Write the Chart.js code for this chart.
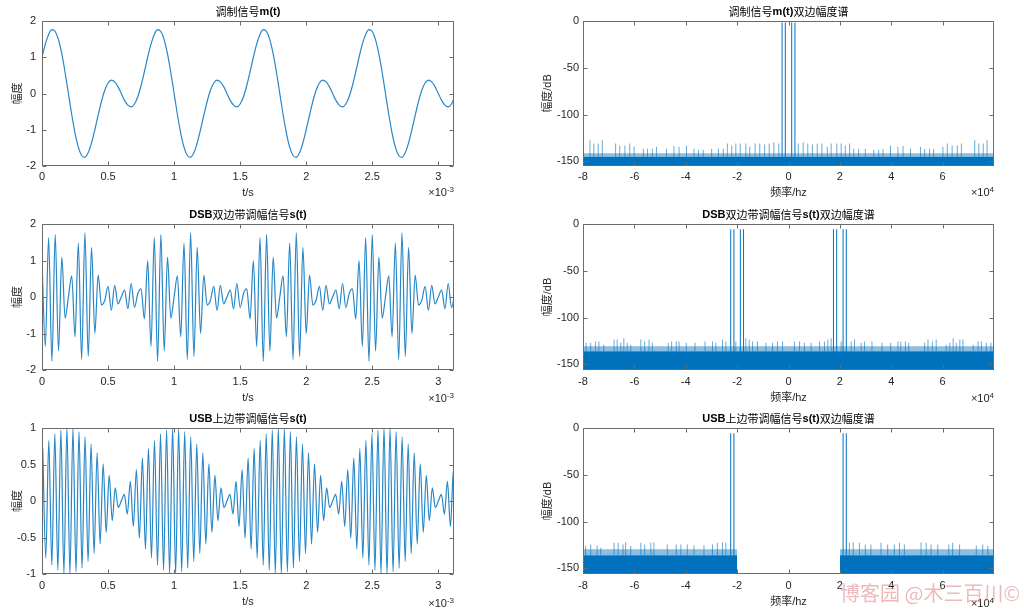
<!DOCTYPE html>
<html>
<head>
<meta charset="utf-8">
<title>调制信号与幅度谱</title>
<script src="https://cdn.jsdelivr.net/npm/chart.js@4.4.1/dist/chart.umd.min.js"></script>
<style>
  html, body { margin: 0; padding: 0; background: #fff; }
  #fig { position: relative; width: 1024px; height: 610px; overflow: hidden; }
  #fig canvas { position: absolute; }
  #mark { position: absolute; left: 840px; top: 581px; font: 20px/24px "Noto Sans CJK SC", sans-serif;
          color: rgba(224, 140, 140, 0.6); white-space: nowrap; }
</style>
</head>
<body>
<div id="fig">
  <canvas id="c1" width="512" height="203" style="left:0;top:0"></canvas>
  <canvas id="c2" width="512" height="203" style="left:512px;top:0"></canvas>
  <canvas id="c3" width="512" height="204" style="left:0;top:203px"></canvas>
  <canvas id="c4" width="512" height="204" style="left:512px;top:203px"></canvas>
  <canvas id="c5" width="512" height="203" style="left:0;top:407px"></canvas>
  <canvas id="c6" width="512" height="203" style="left:512px;top:407px"></canvas>
  <div id="mark">博客园 @木三百川©</div>
</div>
<script>
// ---- time signals (t in ms) ----
const tStepMs = 0.025;
const mValues = [
  1.00, 1.36, 1.63, 1.76, 1.71, 1.48, 1.09, 0.58, 0.00, -0.58, -1.09, -1.48, -1.71, -1.76, -1.63, -1.36,
  -1.00, -0.60, -0.22, 0.09, 0.29, 0.37, 0.32, 0.19, 0.00, -0.19, -0.32, -0.37, -0.29, -0.09, 0.22, 0.60,
  1.00, 1.36, 1.63, 1.76, 1.71, 1.48, 1.09, 0.58, 0.00, -0.58, -1.09, -1.48, -1.71, -1.76, -1.63, -1.36,
  -1.00, -0.60, -0.22, 0.09, 0.29, 0.37, 0.32, 0.19, 0.00, -0.19, -0.32, -0.37, -0.29, -0.09, 0.22, 0.60,
  1.00, 1.36, 1.63, 1.76, 1.71, 1.48, 1.09, 0.58, 0.00, -0.58, -1.09, -1.48, -1.71, -1.76, -1.63, -1.36,
  -1.00, -0.60, -0.22, 0.09, 0.29, 0.37, 0.32, 0.19, 0.00, -0.19, -0.32, -0.37, -0.29, -0.09, 0.22, 0.60,
  1.00, 1.36, 1.63, 1.76, 1.71, 1.48, 1.09, 0.58, 0.00, -0.58, -1.09, -1.48, -1.71, -1.76, -1.63, -1.36,
  -1.00, -0.60, -0.22, 0.09, 0.29, 0.37, 0.32, 0.19, 0.00, -0.19, -0.32, -0.37, -0.29, -0.09
];
const dsbValues = [
  1.00, -1.36, 1.63, -1.76, 1.71, -1.48, 1.09, -0.58, 0.00, 0.58, -1.09, 1.48, -1.71, 1.76, -1.63, 1.36,
  -1.00, 0.60, -0.22, -0.09, 0.29, -0.37, 0.32, -0.19, 0.00, 0.19, -0.32, 0.37, -0.29, 0.09, 0.22, -0.60,
  1.00, -1.36, 1.63, -1.76, 1.71, -1.48, 1.09, -0.58, 0.00, 0.58, -1.09, 1.48, -1.71, 1.76, -1.63, 1.36,
  -1.00, 0.60, -0.22, -0.09, 0.29, -0.37, 0.32, -0.19, 0.00, 0.19, -0.32, 0.37, -0.29, 0.09, 0.22, -0.60,
  1.00, -1.36, 1.63, -1.76, 1.71, -1.48, 1.09, -0.58, 0.00, 0.58, -1.09, 1.48, -1.71, 1.76, -1.63, 1.36,
  -1.00, 0.60, -0.22, -0.09, 0.29, -0.37, 0.32, -0.19, 0.00, 0.19, -0.32, 0.37, -0.29, 0.09, 0.22, -0.60,
  1.00, -1.36, 1.63, -1.76, 1.71, -1.48, 1.09, -0.58, 0.00, 0.58, -1.09, 1.48, -1.71, 1.76, -1.63, 1.36,
  -1.00, 0.60, -0.22, -0.09, 0.29, -0.37, 0.32, -0.19, 0.00, 0.19, -0.32, 0.37, -0.29, 0.09
];
const usbStartMs = 0.0057;
const usbStepMs = 0.02286;
const usbValues = [
  0.72, -0.78, 0.83, -0.88, 0.92, -0.95, 0.97, -0.99, 1.00, -1.00, 0.99, -0.97, 0.95, -0.92, 0.88, -0.83, 0.78, -0.72,
  0.66, -0.59, 0.51, -0.43, 0.35, -0.27, 0.18, -0.09, 0.00, 0.09, -0.18, 0.27, -0.35, 0.43, -0.51, 0.59, -0.66,
  0.72, -0.78, 0.83, -0.88, 0.92, -0.95, 0.97, -0.99, 1.00, -1.00, 0.99, -0.97, 0.95, -0.92, 0.88, -0.83, 0.78, -0.72,
  0.66, -0.59, 0.51, -0.43, 0.35, -0.27, 0.18, -0.09, 0.00, 0.09, -0.18, 0.27, -0.35, 0.43, -0.51, 0.59, -0.66,
  0.72, -0.78, 0.83, -0.88, 0.92, -0.95, 0.97, -0.99, 1.00, -1.00, 0.99, -0.97, 0.95, -0.92, 0.88, -0.83, 0.78, -0.72,
  0.66, -0.59, 0.51, -0.43, 0.35, -0.27, 0.18, -0.09, 0.00, 0.09, -0.18, 0.27, -0.35, 0.43, -0.51, 0.59, -0.66,
  0.72, -0.78, 0.83, -0.88, 0.92, -0.95, 0.97, -0.99, 1.00, -1.00, 0.99, -0.97, 0.95, -0.92, 0.88, -0.83, 0.78, -0.72,
  0.66, -0.59, 0.51, -0.43, 0.35, -0.27, 0.18, -0.09, 0.00, 0.09, -0.18, 0.27, -0.35, 0.43, -0.51
];

// ---- spectra (f in units of 10^4 Hz, level in dB) ----
const mToneFreq = [-0.25, -0.125, 0.125, 0.25];
const mToneDb = -1.7;
const mNoiseDb = [-145, -141.5];          // top of solid floor, top of fuzzy floor
const mSpikeFreq = [
  -7.73, -7.58, -7.41, -7.25, -6.73, -6.57, -6.37, -6.18, -6.01, -5.65, -5.49, -5.30, -5.14, -4.75, -4.46, -4.26, -3.97, -3.68,
  -3.51, -3.32, -2.99, -2.73, -2.54, -2.38, -2.21, -2.05, -1.88, -1.66, -1.51, -1.30, -1.12, -0.93, -0.75, -0.57, -0.38,
  0.38, 0.57, 0.75, 0.93, 1.12, 1.30, 1.51, 1.66, 1.88, 2.05, 2.21, 2.38, 2.54, 2.73, 2.99, 3.32, 3.51,
  3.68, 3.97, 4.26, 4.46, 4.75, 5.14, 5.30, 5.49, 5.65, 6.01, 6.18, 6.37, 6.57, 6.73, 7.25, 7.41, 7.58, 7.73
];
const mSpikeDb = [
  -127.5, -131, -131, -127.5, -131, -133, -133, -131, -134.5, -136.5, -136.5, -136.5, -134.5, -136.5, -133.5, -134.5, -133, -136.5,
  -137.5, -137.5, -136.5, -136.5, -136.5, -131, -133, -131, -131, -131, -134.5, -131, -131, -132, -131, -129.5, -131,
  -131, -129.5, -131, -132, -131, -131, -134.5, -131, -131, -131, -133, -131, -136.5, -136.5, -136.5, -137.5, -137.5,
  -136.5, -133, -134.5, -133.5, -136.5, -134.5, -136.5, -136.5, -136.5, -134.5, -131, -133, -133, -131, -127.5, -131, -131, -127.5
];

const dsbToneFreq = [-2.25, -2.125, -1.875, -1.75, 1.75, 1.875, 2.125, 2.25];
const dsbToneDb = -5.7;
const dsbNoiseDb = [-136, -130.5];
const dsbSpikeFreq = [
  -7.88, -7.70, -7.51, -7.38, -7.19, -6.79, -6.67, -6.53, -6.41, -6.28, -6.14, -5.75, -5.60, -5.43, -5.30, -4.68, -4.55, -4.37,
  -4.26, -3.98, -3.64, -3.25, -2.96, -2.83, -2.57, -2.44, -2.05, -1.66, -1.53, -1.40, -1.21, -0.88, -0.62, -0.43, -0.23,
  0.23, 0.43, 0.62, 0.88, 1.21, 1.40, 1.53, 1.66, 2.05, 2.44, 2.57, 2.83, 2.96, 3.25, 3.64, 3.98, 4.26,
  4.37, 4.55, 4.68, 5.30, 5.43, 5.60, 5.75, 6.14, 6.28, 6.41, 6.53, 6.67, 6.79, 7.19, 7.38, 7.51, 7.70, 7.88
];
const dsbSpikeDb = [
  -127, -127, -125.5, -125.5, -129, -123.5, -123.5, -127, -122, -127, -129, -123.5, -125.5, -123.5, -127, -127, -125.5, -125.5,
  -125.5, -127, -127, -125.5, -125.5, -127, -123.5, -125.5, -125.5, -122, -123.5, -125.5, -125.5, -127, -127, -125.5, -125.5,
  -125.5, -125.5, -127, -127, -125.5, -125.5, -123.5, -122, -125.5, -125.5, -123.5, -127, -125.5, -125.5, -127, -127, -125.5,
  -125.5, -125.5, -127, -127, -123.5, -125.5, -123.5, -129, -127, -122, -127, -123.5, -123.5, -129, -125.5, -125.5, -127, -127
];

const usbToneFreq = [-2.25, -2.125, 2.125, 2.25];
const usbToneDb = -5.7;
const usbNoiseDb = [-136, -129.5];
const usbPassBands = [[-8, -2], [2, 8]];
const usbStopDb = -155.6;
const usbSpikeFreq = [
  -7.90, -7.70, -7.45, -7.31, -6.79, -6.63, -6.44, -6.34, -6.14, -5.75, -5.60, -5.36, -5.24, -4.72, -4.37, -4.19, -3.94, -3.68,
  -3.29, -2.96, -2.77, -2.57, -2.44,
  2.37, 2.52, 2.76, 2.99, 3.21, 3.60, 3.86, 4.12, 4.32, 4.51, 5.16, 5.36, 5.55, 5.81, 6.24, 6.39, 6.66, 7.31, 7.56, 7.76
];
const usbSpikeDb = [
  -126, -124.5, -125.5, -128, -122.5, -122.5, -124.5, -122, -126, -122.5, -124.5, -122.5, -122, -124.5, -124.5, -124.5, -124.5, -125.5,
  -125.5, -124.5, -122.5, -122, -122.5,
  -122.5, -122, -122.5, -124.5, -124.5, -122.5, -124.5, -124.5, -122.5, -124.5, -122, -122.5, -124.5, -124.5, -124.5, -122.5, -124.5, -125.5, -124.5, -126
];

const titles = [
  '调制信号m(t)', '调制信号m(t)双边幅度谱',
  'DSB双边带调幅信号s(t)', 'DSB双边带调幅信号s(t)双边幅度谱',
  'USB上边带调幅信号s(t)', 'USB上边带调幅信号s(t)双边幅度谱'
];

// ---- styling ----
const blue = '#0072BD';
const ink = '#262626';
const latin = '"Liberation Sans", Arial, sans-serif';
const cjk = '"Liberation Sans", "Noto Sans CJK SC", sans-serif';

// MATLAB-like box, inward ticks, mixed-weight title and axis exponent
const matlabAxes = {
  id: 'matlabAxes',
  afterDatasetsDraw(chart, args, opts) {
    const { ctx, chartArea: a, scales: { x, y } } = chart;
    const L = Math.round(a.left) + 0.5, R = Math.round(a.right) - 0.5;
    const T = Math.round(a.top) + 0.5, B = Math.round(a.bottom) - 0.5;
    ctx.save();
    ctx.strokeStyle = '#6b6b6b';
    ctx.lineWidth = 1;
    ctx.beginPath();
    ctx.rect(L, T, R - L, B - T);
    x.ticks.forEach(t => {
      const p = Math.round(x.getPixelForValue(t.value)) + 0.5;
      ctx.moveTo(p, B); ctx.lineTo(p, B - 4);
      ctx.moveTo(p, T); ctx.lineTo(p, T + 4);
    });
    y.ticks.forEach(t => {
      const p = Math.round(y.getPixelForValue(t.value)) + 0.5;
      ctx.moveTo(L, p); ctx.lineTo(L + 4, p);
      ctx.moveTo(R, p); ctx.lineTo(R - 4, p);
    });
    ctx.stroke();

    // title: latin runs bold, chinese runs regular
    const runs = opts.title.match(/[\x00-\x7f]+|[^\x00-\x7f]+/g);
    const fonts = runs.map(r => /^[\x00-\x7f]/.test(r) ? 'bold 11px ' + latin : '11px "Noto Sans CJK SC", sans-serif');
    let total = 0;
    const widths = runs.map((r, i) => { ctx.font = fonts[i]; const w = ctx.measureText(r).width; total += w; return w; });
    let cx = (a.left + a.right) / 2 - total / 2;
    ctx.fillStyle = '#000';
    ctx.textBaseline = 'middle';
    ctx.textAlign = 'left';
    runs.forEach((r, i) => { ctx.font = fonts[i]; ctx.fillText(r, cx, a.top - 9.5); cx += widths[i]; });

    // exponent label
    ctx.fillStyle = ink;
    ctx.textAlign = 'right';
    ctx.font = '8px ' + latin;
    const we = ctx.measureText(opts.exponent).width;
    ctx.fillText(opts.exponent, a.right, a.bottom + opts.expOff - 3);
    ctx.font = '11px ' + latin;
    ctx.fillText('×10', a.right - we, a.bottom + opts.expOff);
    ctx.restore();
  }
};

function makeChart(id, col, row, datasets, ax) {
  const yW = [42, 71][col], padR = [58, 30][col], yTitlePad = [11.7, 29.7][col], yTickPad = [6, 4][col];
  const xH = [37, 37, 36][row], xTickPad = [4.4, 5, 5.8][row], xTitlePad = [3.7, 2.7, 1.7][row], expOff = [27, 29, 30][row];
  const fmt = v => String(+v.toFixed(3));
  return new Chart(document.getElementById(id), {
    type: 'line',
    data: { datasets },
    options: {
      responsive: false,
      animation: false,
      events: [],
      layout: { padding: { top: 21, right: padR, left: 0, bottom: 0 } },
      plugins: {
        legend: { display: false },
        tooltip: { enabled: false },
        matlabAxes: { title: ax.title, exponent: ax.exponent, expOff }
      },
      scales: {
        x: {
          type: 'linear', min: ax.xMin, max: ax.xMax, offset: false,
          grid: { display: false, drawTicks: false, offset: false }, border: { display: false },
          ticks: { stepSize: ax.xStep, includeBounds: false, autoSkip: false, maxRotation: 0,
                   padding: xTickPad, color: ink, font: { family: latin, size: 11 }, callback: fmt },
          afterBuildTicks: s => { s.ticks = s.ticks.filter(t => t.value < ax.xMax - 1e-6); },
          title: { display: true, text: ax.xLabel, color: ink, font: { family: cjk, size: 11 },
                   padding: { top: 0, bottom: xTitlePad } },
          afterFit: s => { s.height = xH; }
        },
        y: {
          type: 'linear', min: ax.yMin, max: ax.yMax,
          grid: { display: false, drawTicks: false }, border: { display: false },
          ticks: { stepSize: ax.yStep, includeBounds: false, autoSkip: false,
                   padding: yTickPad, color: ink, font: { family: latin, size: 11 }, callback: fmt },
          title: { display: true, text: ax.yLabel, color: ink, font: { family: cjk, size: 11 },
                   padding: { top: yTitlePad, bottom: 0 } },
          afterFit: s => { s.width = yW; }
        }
      }
    },
    plugins: [matlabAxes]
  });
}

function wave(values, t0, step) {
  return [{
    data: values.map((v, i) => ({ x: t0 + i * step, y: v })),
    borderColor: 'rgba(0,114,189,0.85)', borderWidth: 1.2, pointRadius: 0, fill: false,
    cubicInterpolationMode: 'monotone'
  }];
}

function spectrum(toneFreq, toneDb, noiseDb, spikeFreq, spikeDb, bands, floorDb) {
  const sets = [
    { type: 'bar', data: toneFreq.map(f => ({ x: f, y: [floorDb, toneDb] })),
      backgroundColor: blue, barThickness: 1, grouped: false, inflateAmount: 0 },
    { type: 'bar', data: spikeFreq.map((f, i) => ({ x: f, y: [noiseDb[0], spikeDb[i]] })),
      backgroundColor: 'rgba(0,114,189,0.6)', barThickness: 1, grouped: false, inflateAmount: 0 }
  ];
  bands.forEach(b => sets.push({ data: b.map(f => ({ x: f, y: noiseDb[1] })), fill: { value: noiseDb[0] },
    backgroundColor: 'rgba(0,114,189,0.45)', borderWidth: 0, pointRadius: 0 }));
  bands.forEach(b => sets.push({ data: b.map(f => ({ x: f, y: noiseDb[0] })), fill: 'start',
    backgroundColor: blue, borderWidth: 0, pointRadius: 0 }));
  return sets;
}

const timeAxis = { xMin: 0, xMax: 3.11875, xStep: 0.5, xLabel: 't/s', yLabel: '幅度', exponent: '-3' };
const freqAxis = { xMin: -8, xMax: 8, xStep: 2, xLabel: '频率/hz', yLabel: '幅度/dB', exponent: '4', yMax: 0, yStep: 50 };

makeChart('c1', 0, 0, wave(mValues, 0, tStepMs),
  Object.assign({}, timeAxis, { title: titles[0], yMin: -2, yMax: 2, yStep: 1 }));
makeChart('c3', 0, 1, wave(dsbValues, 0, tStepMs),
  Object.assign({}, timeAxis, { title: titles[2], yMin: -2, yMax: 2, yStep: 1 }));
makeChart('c5', 0, 2, wave(usbValues, usbStartMs, usbStepMs),
  Object.assign({}, timeAxis, { title: titles[4], yMin: -1, yMax: 1, yStep: 0.5 }));

makeChart('c2', 1, 0, spectrum(mToneFreq, mToneDb, mNoiseDb, mSpikeFreq, mSpikeDb, [[-8, 8]], -155),
  Object.assign({}, freqAxis, { title: titles[1], yMin: -155 }));
makeChart('c4', 1, 1, spectrum(dsbToneFreq, dsbToneDb, dsbNoiseDb, dsbSpikeFreq, dsbSpikeDb, [[-8, 8]], -156),
  Object.assign({}, freqAxis, { title: titles[3], yMin: -156 }));

const usbSets = spectrum(usbToneFreq, usbToneDb, usbNoiseDb, usbSpikeFreq, usbSpikeDb, usbPassBands, -156);
usbSets.push({ data: [{ x: usbPassBands[0][1], y: usbStopDb }, { x: usbPassBands[1][0], y: usbStopDb }],
  borderColor: blue, borderWidth: 1, pointRadius: 0, fill: false });
makeChart('c6', 1, 2, usbSets, Object.assign({}, freqAxis, { title: titles[5], yMin: -156 }));
</script>
</body>
</html>
